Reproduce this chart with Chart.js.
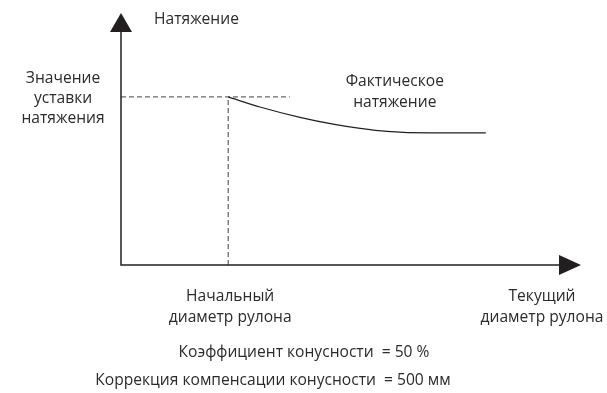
<!DOCTYPE html>
<html lang="ru">
<head>
    <meta charset="utf-8">
    <title>Натяжение</title>
    <script src="https://cdn.jsdelivr.net/npm/chart.js@4.4.1/dist/chart.umd.min.js"></script>
    <style>
        body {
            margin: 0;
            background: #fff;
        }

        .wrap {
            width: 607px;
            height: 393px;
        }
    </style>
</head>
<body>
<div class="wrap">
    <canvas id="myChart" width="607" height="393"></canvas>
</div>

<script>
    // actual tension curve (x = roll diameter, y = tension, arbitrary units 0..100)
    var curveX = [23.3, 30.2, 38.9, 46.1, 52.0, 57.8, 67.2, 79.3];
    var curveY = [66.7, 62.7, 58.6, 55.9, 54.2, 53.0, 52.4, 52.4];

    // setpoint level and initial diameter
    var setpointY = 66.7;
    var setpointEndX = 36.7;
    var initialDiamX = 23.3;

    var yAxisTitle = 'Натяжение';
    var setpointLabel = ['Значение', 'уставки', 'натяжения'];
    var actualLabel = ['Фактическое', 'натяжение'];
    var initialLabel = ['Начальный', 'диаметр рулона'];
    var xAxisTitle = ['Текущий', 'диаметр рулона'];
    var notes = ['Коэффициент конусности  = 50 %', 'Коррекция компенсации конусности  = 500 мм'];

    var ink = '#231f20';
    var font = '15.6px "Open Sans", sans-serif';

    function pts(xs, ys) {
        return xs.map(function (x, i) { return {x: x, y: ys[i]}; });
    }

    // axes, arrowheads and all the text around the plot
    var decor = {
        id: 'decor',
        afterDraw: function (chart) {
            var c = chart.ctx;
            var xs = chart.scales.x, ys = chart.scales.y;
            var a = chart.chartArea;
            c.save();
            c.strokeStyle = ink;
            c.fillStyle = ink;
            c.lineWidth = 1.5;
            c.beginPath();
            c.moveTo(a.left, a.top + 10);
            c.lineTo(a.left, a.bottom);
            c.lineTo(a.right - 10, a.bottom);
            c.stroke();
            // up arrow
            c.beginPath();
            c.moveTo(a.left, a.top);
            c.lineTo(a.left - 11, a.top + 19);
            c.lineTo(a.left + 11, a.top + 19);
            c.closePath();
            c.fill();
            // right arrow
            c.beginPath();
            c.moveTo(a.right, a.bottom);
            c.lineTo(a.right - 22, a.bottom - 10);
            c.lineTo(a.right - 22, a.bottom + 10);
            c.closePath();
            c.fill();

            c.font = font;
            c.fillStyle = '#2b2b2b';
            c.textBaseline = 'middle';
            c.textAlign = 'left';
            c.fillText(yAxisTitle, a.left + 33, a.top + 7);

            function block(lines, cx, cy, lh) {
                c.textAlign = 'center';
                lines.forEach(function (t, i) { c.fillText(t, cx, cy + i * lh); });
            }
            var ySet = ys.getPixelForValue(setpointY);
            block(setpointLabel, 63, ySet - 18, 20);
            block(actualLabel, xs.getPixelForValue(curveX[curveX.length - 1]) - 91, ySet - 15, 21);
            block(initialLabel, xs.getPixelForValue(initialDiamX) + 2, a.bottom + 32, 21);
            block(xAxisTitle, a.right - 39, a.bottom + 32, 21);
            block([notes[0]], 304, a.bottom + 88, 0);
            block([notes[1]], 273, a.bottom + 116, 0);
            c.restore();
        }
    };

    var ctx = document.getElementById('myChart').getContext('2d');
    var chart = new Chart(ctx, {
        type: 'line',
        data: {
            datasets: [{
                data: pts(curveX, curveY),
                borderColor: ink,
                borderWidth: 1.2,
                cubicInterpolationMode: 'monotone',
                pointRadius: 0
            }, {
                data: pts([0, setpointEndX], [setpointY, setpointY]),
                borderColor: '#444',
                borderWidth: 1,
                borderDash: [5, 3],
                pointRadius: 0
            }, {
                data: pts([initialDiamX, initialDiamX], [0, setpointY]),
                borderColor: '#444',
                borderWidth: 1,
                borderDash: [5, 3],
                pointRadius: 0
            }]
        },
        options: {
            responsive: false,
            animation: false,
            layout: {padding: {left: 121, right: 26, top: 13, bottom: 128}},
            plugins: {legend: {display: false}, tooltip: {enabled: false}},
            scales: {
                x: {type: 'linear', min: 0, max: 100, display: false},
                y: {type: 'linear', min: 0, max: 100, display: false}
            }
        },
        plugins: [decor]
    });
</script>
</body>
</html>
